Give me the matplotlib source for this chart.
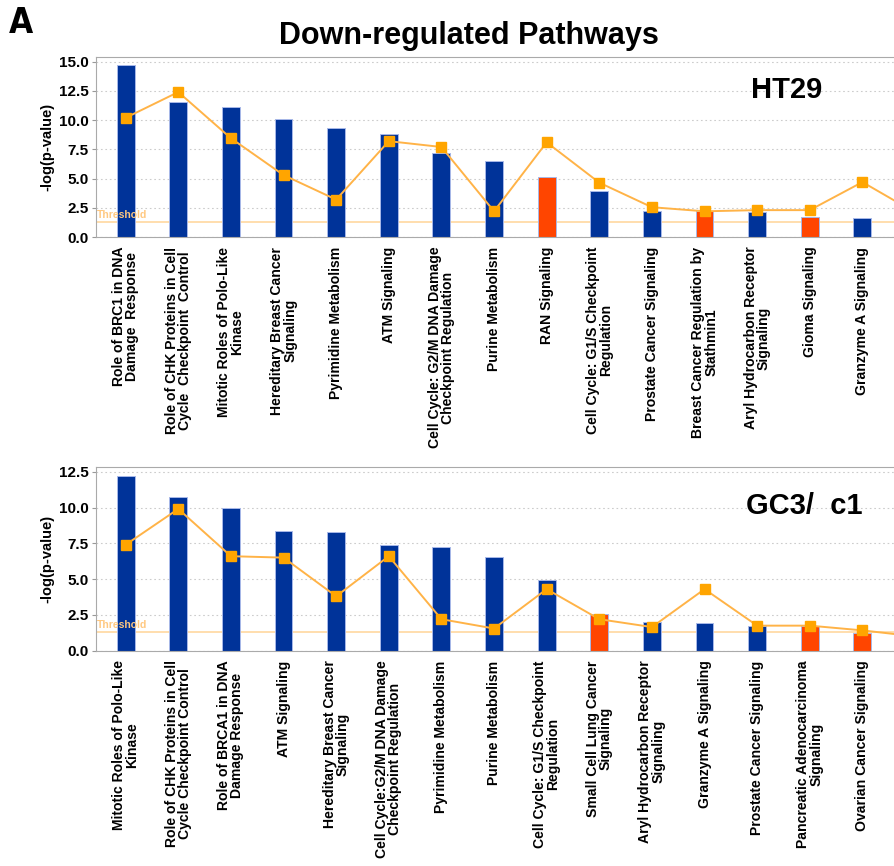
import numpy as np
import matplotlib
matplotlib.use('Agg')
from matplotlib import pyplot as plt

plt.rcParams['font.family'] = ['Liberation Sans', 'DejaVu Sans']

# HT29 panel
ht29_paths = ['Role of BRC1 in DNA\nDamage  Response',
              'Role of CHK Proteins in Cell\nCycle  Checkpoint  Control',
              'Mitotic Roles of Polo-Like\nKinase',
              'Hereditary Breast Cancer\nSignaling',
              'Pyrimidine Metabolism',
              'ATM Signaling',
              'Cell Cycle: G2/M DNA Damage\nCheckpoint Regulation',
              'Purine Metabolism',
              'RAN Signaling',
              'Cell Cycle: G1/S Checkpoint\nRegulation',
              'Prostate Cancer Signaling',
              'Breast Cancer Regulation by\nStathmin1',
              'Aryl Hydrocarbon Receptor\nSignaling',
              'Gioma Signaling',
              'Granzyme A Signaling']
ht29_logp = [14.7, 11.55, 11.1, 10.1, 9.3, 8.8, 7.2, 6.5, 5.1, 3.9, 2.2, 2.2, 2.1, 1.75, 1.65]
ht29_up = [False, False, False, False, False, False, False, False, True, False, False, True, False, True, False]
# ratio line (last point belongs to the next, cut-off pathway)
ht29_ratio = [10.2, 12.4, 8.45, 5.3, 3.2, 8.2, 7.7, 2.2, 8.1, 4.65, 2.55, 2.2, 2.3, 2.3, 4.7, 2.1]

# GC3/c1 panel
gc3_paths = ['Mitotic Roles of Polo-Like\nKinase',
             'Role of CHK Proteins in Cell\nCycle Checkpoint Control',
             'Role of BRCA1 in DNA\nDamage Response',
             'ATM Signaling',
             'Hereditary Breast Cancer\nSignaling',
             'Cell Cycle:G2/M DNA Damage\nCheckpoint Regulation',
             'Pyrimidine Metabolism',
             'Purine Metabolism',
             'Cell Cycle: G1/S Checkpoint\nRegulation',
             'Small Cell Lung Cancer\nSignaling',
             'Aryl Hydrocarbon Receptor\nSignaling',
             'Granzyme A Signaling',
             'Prostate Cancer Signaling',
             'Pancreatic Adenocarcinoma\nSignaling',
             'Ovarian Cancer Signaling']
gc3_logp = [12.2, 10.75, 10.0, 8.35, 8.3, 7.4, 7.25, 6.55, 4.95, 2.55, 2.0, 1.95, 1.75, 1.75, 1.25]
gc3_up = [False, False, False, False, False, False, False, False, False, True, False, False, False, True, True]
gc3_ratio = [7.4, 9.9, 6.6, 6.5, 3.8, 6.6, 2.2, 1.55, 4.3, 2.2, 1.65, 4.3, 1.75, 1.75, 1.42, 1.0]

threshold = 1.3

BLUE = '#003399'
RED = '#ff4500'
LINE = '#ffb347'
MARK = '#ffa500'


def panel(ax, paths, logp, up, ratio, ymax, yticks, name, name_pos):
    x = np.arange(len(paths))
    colors = [RED if u else BLUE for u in up]
    ax.bar(x, logp, width=0.34, color=colors, edgecolor='#a8b8e8', linewidth=0.7, zorder=2)
    xr = np.arange(len(ratio))
    ax.plot(xr, ratio, color=LINE, lw=1.4, marker='s', ms=7, mfc=MARK, mec=MARK, zorder=3, clip_on=True)
    ax.axhline(threshold, color='#ffd8a0', lw=1.2, zorder=1)
    ax.text(-0.55, threshold + 0.15, 'Threshold', color='#ffc880', fontsize=7.5,
            fontweight='bold', va='bottom', ha='left')
    ax.set_xlim(-0.57, 14.6)
    ax.set_ylim(0, ymax)
    ax.set_yticks(yticks)
    ax.set_yticklabels([f'{t:.1f}' for t in yticks], fontsize=11, fontweight='bold')
    ax.set_xticks(x)
    ax.set_xticklabels(paths, rotation=90, fontsize=10.1, fontweight='bold',
                       va='top', ha='center', linespacing=0.92)
    ax.tick_params(axis='x', length=0, pad=7)
    ax.tick_params(axis='y', length=3, color='#999999', pad=2)
    ax.grid(axis='y', ls=(0, (1.5, 2.5)), color='#cccccc', lw=0.8, zorder=0)
    ax.set_ylabel('-log(p-value)', fontsize=10.5, fontweight='bold', labelpad=3)
    for s in ['left', 'bottom', 'top']:
        ax.spines[s].set_color('#aaaaaa')
    ax.spines['right'].set_visible(False)
    ax.text(name_pos[0], name_pos[1], name, transform=ax.transAxes, fontsize=21,
            fontweight='bold', ha='center', va='center')


fig = plt.figure(figsize=(8.94, 8.66), dpi=100)
ax1 = fig.add_axes([0.107, 0.7263, 0.893, 0.2079])
ax2 = fig.add_axes([0.107, 0.2486, 0.893, 0.2125])

panel(ax1, ht29_paths, ht29_logp, ht29_up, ht29_ratio, 15.4, np.arange(0, 15.1, 2.5),
      'HT29', (0.865, 0.815))
panel(ax2, gc3_paths, gc3_logp, gc3_up, gc3_ratio, 12.85, np.arange(0, 12.6, 2.5),
      'GC3/  c1', (0.888, 0.786))

fig.text(0.525, 0.959, 'Down-regulated Pathways', fontsize=22, fontweight='bold',
         ha='center', va='center')
fig.text(0.01, 0.974, 'A', fontsize=25, fontweight='bold', ha='left', va='center',
         family='DejaVu Sans', stretch='condensed')

fig.savefig('out.png', dpi=100)
